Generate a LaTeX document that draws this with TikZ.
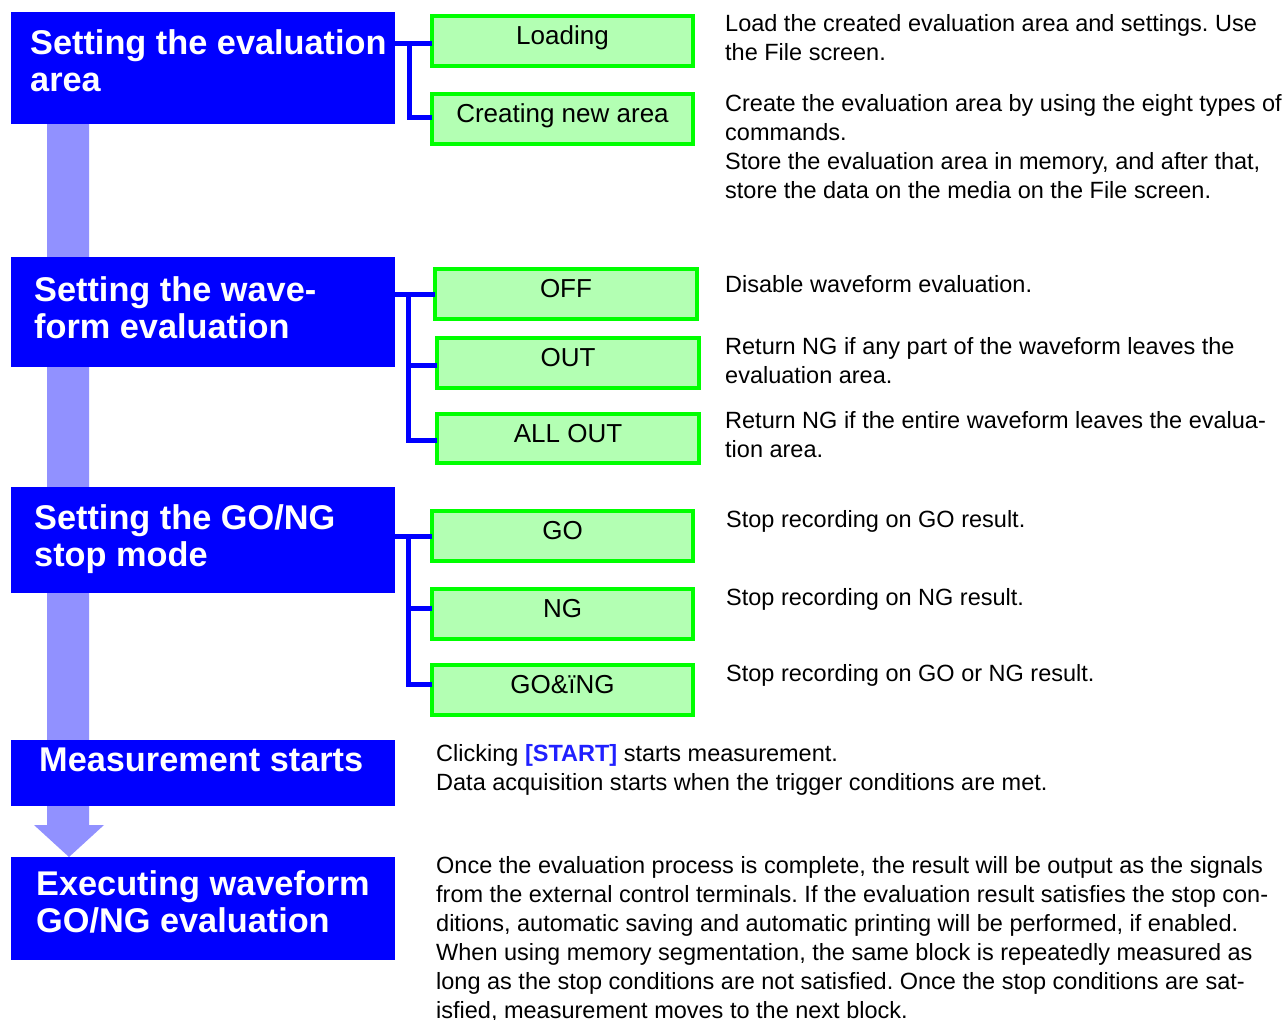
\documentclass[tikz,border=0pt]{standalone}
\usepackage{fontspec}
\setmainfont{Liberation Sans}
\usetikzlibrary{calc}
\definecolor{boxblue}{RGB}{0,0,255}
\definecolor{barblue}{RGB}{145,145,255}
\definecolor{gfill}{RGB}{179,255,179}
\definecolor{gline}{RGB}{0,255,0}
\definecolor{startblue}{RGB}{32,32,255}
\begin{document}
\frenchspacing
\begin{tikzpicture}[x=1pt,y=-1pt,
 bluebox/.style={fill=boxblue, draw=none, anchor=north west, inner sep=0pt, outer sep=0pt},
 title/.style={anchor=base west, inner sep=0pt, align=left, text=white, font=\fontsize{34.3}{37}\selectfont\bfseries},
 greenbox/.style={fill=gfill, draw=gline, line width=4pt, anchor=north west, inner sep=0pt, outer sep=0pt, text height=18pt, text depth=11pt, font=\fontsize{26}{30}\selectfont},
 desc/.style={anchor=base west, inner sep=0pt, align=left, font=\fontsize{23.5}{29}\selectfont\frenchspacing},
 conn/.style={draw=boxblue, line width=5pt}]
\useasboundingbox[fill=white] (0,0) rectangle (1283,1020);

% light flow bar with arrow head
\fill[barblue] (47,110) -- (89,110) -- (89,825) -- (104,825) -- (69,857) -- (34,825) -- (47,825) -- cycle;

% blue step boxes
\node[bluebox, minimum width=384pt, minimum height=112pt] (b1) at (11,12) {};
\node[bluebox, minimum width=384pt, minimum height=110pt] (b2) at (11,257) {};
\node[bluebox, minimum width=384pt, minimum height=106pt] (b3) at (11,487) {};
\node[bluebox, minimum width=384pt, minimum height=66pt] (b4) at (11,740) {};
\node[bluebox, minimum width=384pt, minimum height=103pt] (b5) at (11,857) {};

% titles (base anchor = baseline of the last line)
\node[title] (t1) at (30,91) {Setting the evaluation\\area};
\node[title] (t2) at (34,338) {Setting the wave-\\form evaluation};
\node[title] (t3) at (34,566) {Setting the GO/NG\\stop mode};
\node[title] (t4) at (39,771) {Measurement starts};
\node[title] (t5) at (36,932) {Executing waveform\\GO/NG evaluation};

% green option boxes
\node[greenbox, minimum width=261pt, minimum height=50pt] (g1) at (432,16) {Loading};
\node[greenbox, minimum width=261pt, minimum height=50pt] (g2) at (432,94) {Creating new area};
\node[greenbox, minimum width=262pt, minimum height=50pt] (g3) at (435,269) {OFF};
\node[greenbox, minimum width=262pt, minimum height=50pt] (g4) at (437,338) {OUT};
\node[greenbox, minimum width=262pt, minimum height=49pt] (g5) at (437,414) {ALL OUT};
\node[greenbox, minimum width=261pt, minimum height=50pt] (g6) at (432,511) {GO};
\node[greenbox, minimum width=261pt, minimum height=50pt] (g7) at (432,589) {NG};
\node[greenbox, minimum width=261pt, minimum height=50pt] (g8) at (432,665) {GO\&ïNG};

% connectors
\coordinate (v1) at ([xshift=14pt]b1.east);
\coordinate (v2) at ([xshift=13pt]b2.east);
\coordinate (v3) at ([xshift=13pt]b3.east);
\draw[conn] ([yshift=-2pt]b1.east |- g1.west) -- ([yshift=-2pt]g1.west);
\draw[conn] ([yshift=-2pt]v1 |- g1.west) |- ([yshift=2pt]g2.west);

\draw[conn] (b2.east |- g3.west) -- (g3.west);
\draw[conn] (v2 |- g3.west) |- ([yshift=-2pt]g5.west);
\draw[conn] ([yshift=-2pt]v2 |- g4.west) -- ([yshift=-2pt]g4.west);

\draw[conn] (b3.east |- g6.west) -- (g6.west);
\draw[conn] (v3 |- g6.west) |- ([yshift=6pt]g8.west);
\draw[conn] ([yshift=6pt]v3 |- g7.west) -- ([yshift=6pt]g7.west);

% descriptions (base anchor = baseline of the last line)
\node[desc] (d1) at (725,60) {Load the created evaluation area and settings. Use\\the File screen.};
\node[desc] (d2) at (725,198) {Create the evaluation area by using the eight types of\\commands.\\Store the evaluation area in memory, and after that,\\store the data on the media on the File screen.};
\node[desc] (d3) at (725,292) {Disable waveform evaluation.};
\node[desc] (d4) at (725,383) {Return NG if any part of the waveform leaves the\\evaluation area.};
\node[desc] (d5) at (725,457) {Return NG if the entire waveform leaves the evalua-\\tion area.};
\node[desc] (d6) at (726,527) {Stop recording on GO result.};
\node[desc] (d7) at (726,605) {Stop recording on NG result.};
\node[desc] (d8) at (726,681) {Stop recording on GO or NG result.};
\node[desc] (d9) at (436,790) {Clicking {\bfseries\color{startblue}[START]} starts measurement.\\Data acquisition starts when the trigger conditions are met.};
\node[desc] (d10) at (436,1018) {Once the evaluation process is complete, the result will be output as the signals\\from the external control terminals. If the evaluation result satisfies the stop con-\\ditions, automatic saving and automatic printing will be performed, if enabled.\\When using memory segmentation, the same block is repeatedly measured as\\long as the stop conditions are not satisfied. Once the stop conditions are sat-\\isfied, measurement moves to the next block.};
\end{tikzpicture}
\end{document}
